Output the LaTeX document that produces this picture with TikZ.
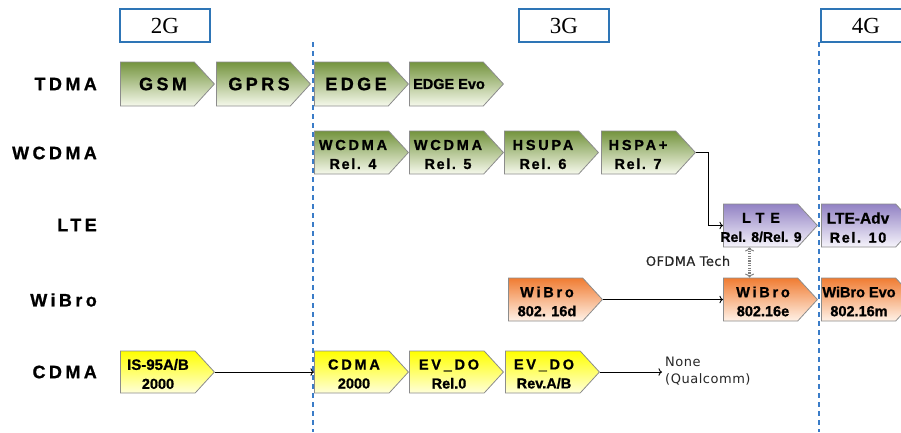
\documentclass[tikz,border=0pt]{standalone}
\usepackage{fontspec}
\setmainfont{Liberation Sans}
\newfontfamily\hdrfont{Liberation Serif}
\newfontfamily\wsp[LetterSpace=19, FakeBold=0.9]{Liberation Sans}
\newfontfamily\xsp[LetterSpace=40, FakeBold=0.9]{Liberation Sans}
\newfontfamily\msp[LetterSpace=11, FakeBold=0.9]{Liberation Sans}
\newfontfamily\nrm[FakeBold=0.9]{Liberation Sans}
\newfontfamily\regf[LetterSpace=4]{DejaVu Sans}
\newfontfamily\regb[LetterSpace=3, FakeBold=0.5]{DejaVu Sans}
\usetikzlibrary{shapes.symbols, arrows.meta}
\definecolor{gTop}{RGB}{116,148,62}
\definecolor{gBot}{RGB}{246,249,236}
\definecolor{oTop}{RGB}{240,124,50}
\definecolor{oBot}{RGB}{255,242,232}
\definecolor{pTop}{RGB}{146,130,196}
\definecolor{pBot}{RGB}{246,244,251}
\definecolor{yTop}{RGB}{255,255,0}
\definecolor{yBot}{RGB}{255,255,218}
\definecolor{edgeGray}{RGB}{140,140,140}
\definecolor{hdrBlue}{RGB}{46,117,182}
\definecolor{dashBlue}{RGB}{58,124,200}
\tikzset{
  sig/.style={signal, signal to=east, signal pointer angle=95, draw=edgeGray,
    line width=0.8pt, inner sep=0pt, minimum height=43pt, minimum width=94pt, anchor=west},
  grn/.style={sig, top color=gTop, bottom color=gBot},
  org/.style={sig, top color=oTop, bottom color=oBot},
  prp/.style={sig, top color=pTop, bottom color=pBot},
  ylw/.style={sig, top color=yTop, bottom color=yBot},
  one/.style={inner sep=0pt, font=\wsp\bfseries\fontsize{18}{20}\selectfont},
  two/.style={align=center, inner sep=0pt, font=\bfseries\fontsize{14.5}{19}\selectfont},
  rowlbl/.style={anchor=east, inner sep=0pt, font=\wsp\bfseries\fontsize{18}{20}\selectfont},
  hdr/.style={draw=hdrBlue, line width=1.4pt, fill=white, minimum width=90pt,
    minimum height=33pt, inner sep=0pt, font=\hdrfont\fontsize{23}{24}\selectfont},
  era/.style={dashBlue, line width=1.3pt, dash pattern=on 5pt off 4pt},
  conn/.style={black, line width=0.9pt, ->},
  note/.style={inner sep=0pt, text=black!85, font=\regf\fontsize{13}{17}\selectfont}
}
\newcommand\lsm[1]{{\fontsize{14.5}{19}\selectfont #1}}
\begin{document}
\begin{tikzpicture}[x=1pt,y=-1pt]
\useasboundingbox (0,0) rectangle (901,432);
\clip (0,0) rectangle (901,432);
% era dividers
\coordinate (d1top) at (313,42);
\coordinate (d1bot) at (313,432);
\coordinate (d2top) at (819,42);
\coordinate (d2bot) at (819,432);
\draw[era] (d1top) -- (d1bot);
\draw[era] (d2top) -- (d2bot);
% headers
\node[hdr] (g2) at (165,25.5) {2G};
\node[hdr] (g3) at (564,25.5) {3G};
\node[hdr] (g4) at (866,25.5) {4G};
% row labels
\node[rowlbl] (l1) at (97,84) {TDMA};
\node[rowlbl] (l2) at (97,153) {WCDMA};
\node[rowlbl] (l3) at (97,225) {LTE};
\node[rowlbl] (l4) at (97,300) {WiBro};
\node[rowlbl] (l5) at (97,372) {CDMA};
% TDMA row
\node[grn, minimum height=44pt] (gsm) at (120,84) {};
\node[grn, minimum height=44pt] (gprs) at (216,84) {};
\node[grn, minimum height=44pt] (edge) at (314,84) {};
\node[grn, minimum height=44pt] (edgeevo) at (409,84) {};
\node[one] (t-gsm) at ([xshift=43pt]gsm.west) {GSM};
\node[one] (t-gprs) at ([xshift=43pt]gprs.west) {GPRS};
\node[one] (t-edge) at ([xshift=42pt]edge.west) {EDGE};
\node[inner sep=0pt, font=\nrm\bfseries\fontsize{14.5}{18}\selectfont] (t-edgeevo) at ([xshift=40pt]edgeevo.west) {EDGE Evo};
% WCDMA row
\node[grn] (w4) at (314,152.5) {};
\node[grn] (w5) at (409,152.5) {};
\node[grn] (hsupa) at (504,152.5) {};
\node[grn] (hspa) at (601,152.5) {};
\node[two] (t-w4) at ([xshift=39pt,yshift=-2pt]w4.west) {{\wsp WCDMA}\\{\msp\lsm{Rel. 4}}};
\node[two] (t-w5) at ([xshift=39pt,yshift=-2pt]w5.west) {{\wsp WCDMA}\\{\msp\lsm{Rel. 5}}};
\node[two] (t-hsupa) at ([xshift=39pt,yshift=-2pt]hsupa.west) {{\wsp HSUPA}\\{\msp\lsm{Rel. 6}}};
\node[two] (t-hspa) at ([xshift=37pt,yshift=-2pt]hspa.west) {{\wsp HSPA+}\\{\msp\lsm{Rel. 7}}};
% LTE row
\node[prp] (lte) at (723,225.5) {};
\node[prp] (lteadv) at (821,225.5) {};
\node[two] (t-lte) at ([xshift=38pt,yshift=-2pt]lte.west) {{\xsp LTE}\\{\nrm\fontsize{14}{19}\selectfont Rel. 8/Rel. 9}};
\node[two] (t-lteadv) at ([xshift=37pt,yshift=-2pt]lteadv.west) {{\nrm\fontsize{15.5}{19}\selectfont LTE-Adv}\\{\msp\lsm{Rel. 10}}};
% WiBro row
\node[org] (wibd) at (508,299.5) {};
\node[org] (wibe) at (723,299.5) {};
\node[org] (wibevo) at (821,299.5) {};
\node[two] (t-wibd) at ([xshift=39pt,yshift=-2pt]wibd.west) {{\wsp WiBro}\\{\nrm\lsm{802. 16d}}};
\node[two] (t-wibe) at ([xshift=40pt,yshift=-2pt]wibe.west) {{\wsp WiBro}\\{\nrm\lsm{802.16e}}};
\node[two] (t-wibevo) at ([xshift=38pt,yshift=-2pt]wibevo.west) {{\nrm WiBro Evo}\\{\nrm\lsm{802.16m}}};
% CDMA row
\node[ylw, minimum height=42pt] (is95) at (120,372) {};
\node[ylw, minimum height=42pt] (cdma) at (314,372) {};
\node[ylw, minimum height=42pt] (ev0) at (409,372) {};
\node[ylw, minimum height=42pt] (evab) at (505,372) {};
\node[two] (t-is95) at ([xshift=38pt,yshift=-2pt]is95.west) {{\nrm\fontsize{15}{19}\selectfont IS-95A/B}\\{\nrm\lsm{2000}}};
\node[two] (t-cdma) at ([xshift=40pt,yshift=-2pt]cdma.west) {{\wsp CDMA}\\{\nrm\lsm{2000}}};
\node[two] (t-ev0) at ([xshift=40pt,yshift=-2pt]ev0.west) {{\wsp EV\_DO}\\{\nrm\lsm{Rel.0}}};
\node[two] (t-evab) at ([xshift=39pt,yshift=-2pt]evab.west) {{\wsp EV\_DO}\\{\nrm\lsm{Rev.A/B}}};
% notes
\node[note, font=\regb\fontsize{13}{17}\selectfont] (ofdma) at (688,261) {OFDMA Tech};
\node[note, anchor=west, align=left] (none) at (665,371) {None\\(Qualcomm)};
\coordinate (noneend) at (662,372);
% connectors
\draw[conn] (hspa.east) -| ([xshift=-15pt]lte.west) -- (lte.west);
\draw[conn] (wibd.east) -- (wibe.west);
\draw[conn] (is95.east) -- (cdma.west);
\draw[conn] (evab.east) -- (noneend);
\draw[black!50, line width=2.2pt, dash pattern=on 1.2pt off 1.2pt, {To[length=4pt,width=9pt,line width=1pt]}-{To[length=4pt,width=9pt,line width=1pt]}] ([xshift=-11pt]lte.south) -- ([xshift=-11pt]wibe.north);
\end{tikzpicture}
\end{document}
